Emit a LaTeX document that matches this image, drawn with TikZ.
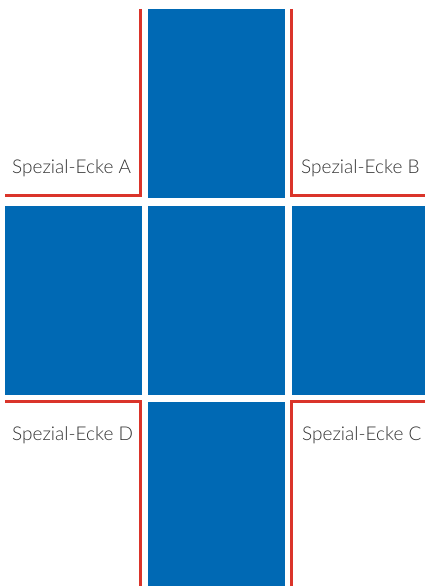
\documentclass[tikz,border=0pt]{standalone}
\usepackage{fontspec}
\setmainfont{Lato}[UprightFont=* Light]
\usepackage{tikz}
\usetikzlibrary{positioning, calc}
\definecolor{tileblue}{RGB}{0,105,180}
\definecolor{edgered}{RGB}{218,52,42}

\begin{document}
\begin{tikzpicture}[x=1pt, y=-1pt,
    every node/.style={font=\fontsize{19}{22}\selectfont, text=black!80, inner sep=0pt},
    tile/.style={fill=tileblue, draw=none},
    edge/.style={draw=edgered, line width=3pt}]
  \useasboundingbox (0,0) rectangle (426,586);
  % blue tiles
  \fill[tile] (148,9) rectangle (285,198);
  \fill[tile] (5,206) rectangle (142,395);
  \fill[tile] (148,206) rectangle (285,395);
  \fill[tile] (292,206) rectangle (425,395);
  \fill[tile] (148,402) rectangle (285,586);
  % red corner edges
  \draw[edge] (140,9) -- (140,195.5) -- (5,195.5);
  \draw[edge] (291.5,9) -- (291.5,195.5) -- (425,195.5);
  \draw[edge] (425,401.5) -- (291.5,401.5) -- (291.5,586);
  \draw[edge] (5,401.5) -- (140,401.5) -- (140,586);
  % labels
  \node[anchor=base west] (ecka) at (12,173) {Spezial-Ecke A};
  \node[anchor=base west] (eckb) at (301,173) {Spezial-Ecke B};
  \node[anchor=base west] (eckc) at (302,440) {Spezial-Ecke C};
  \node[anchor=base west] (eckd) at (12,440) {Spezial-Ecke D};
\end{tikzpicture}
\end{document}
